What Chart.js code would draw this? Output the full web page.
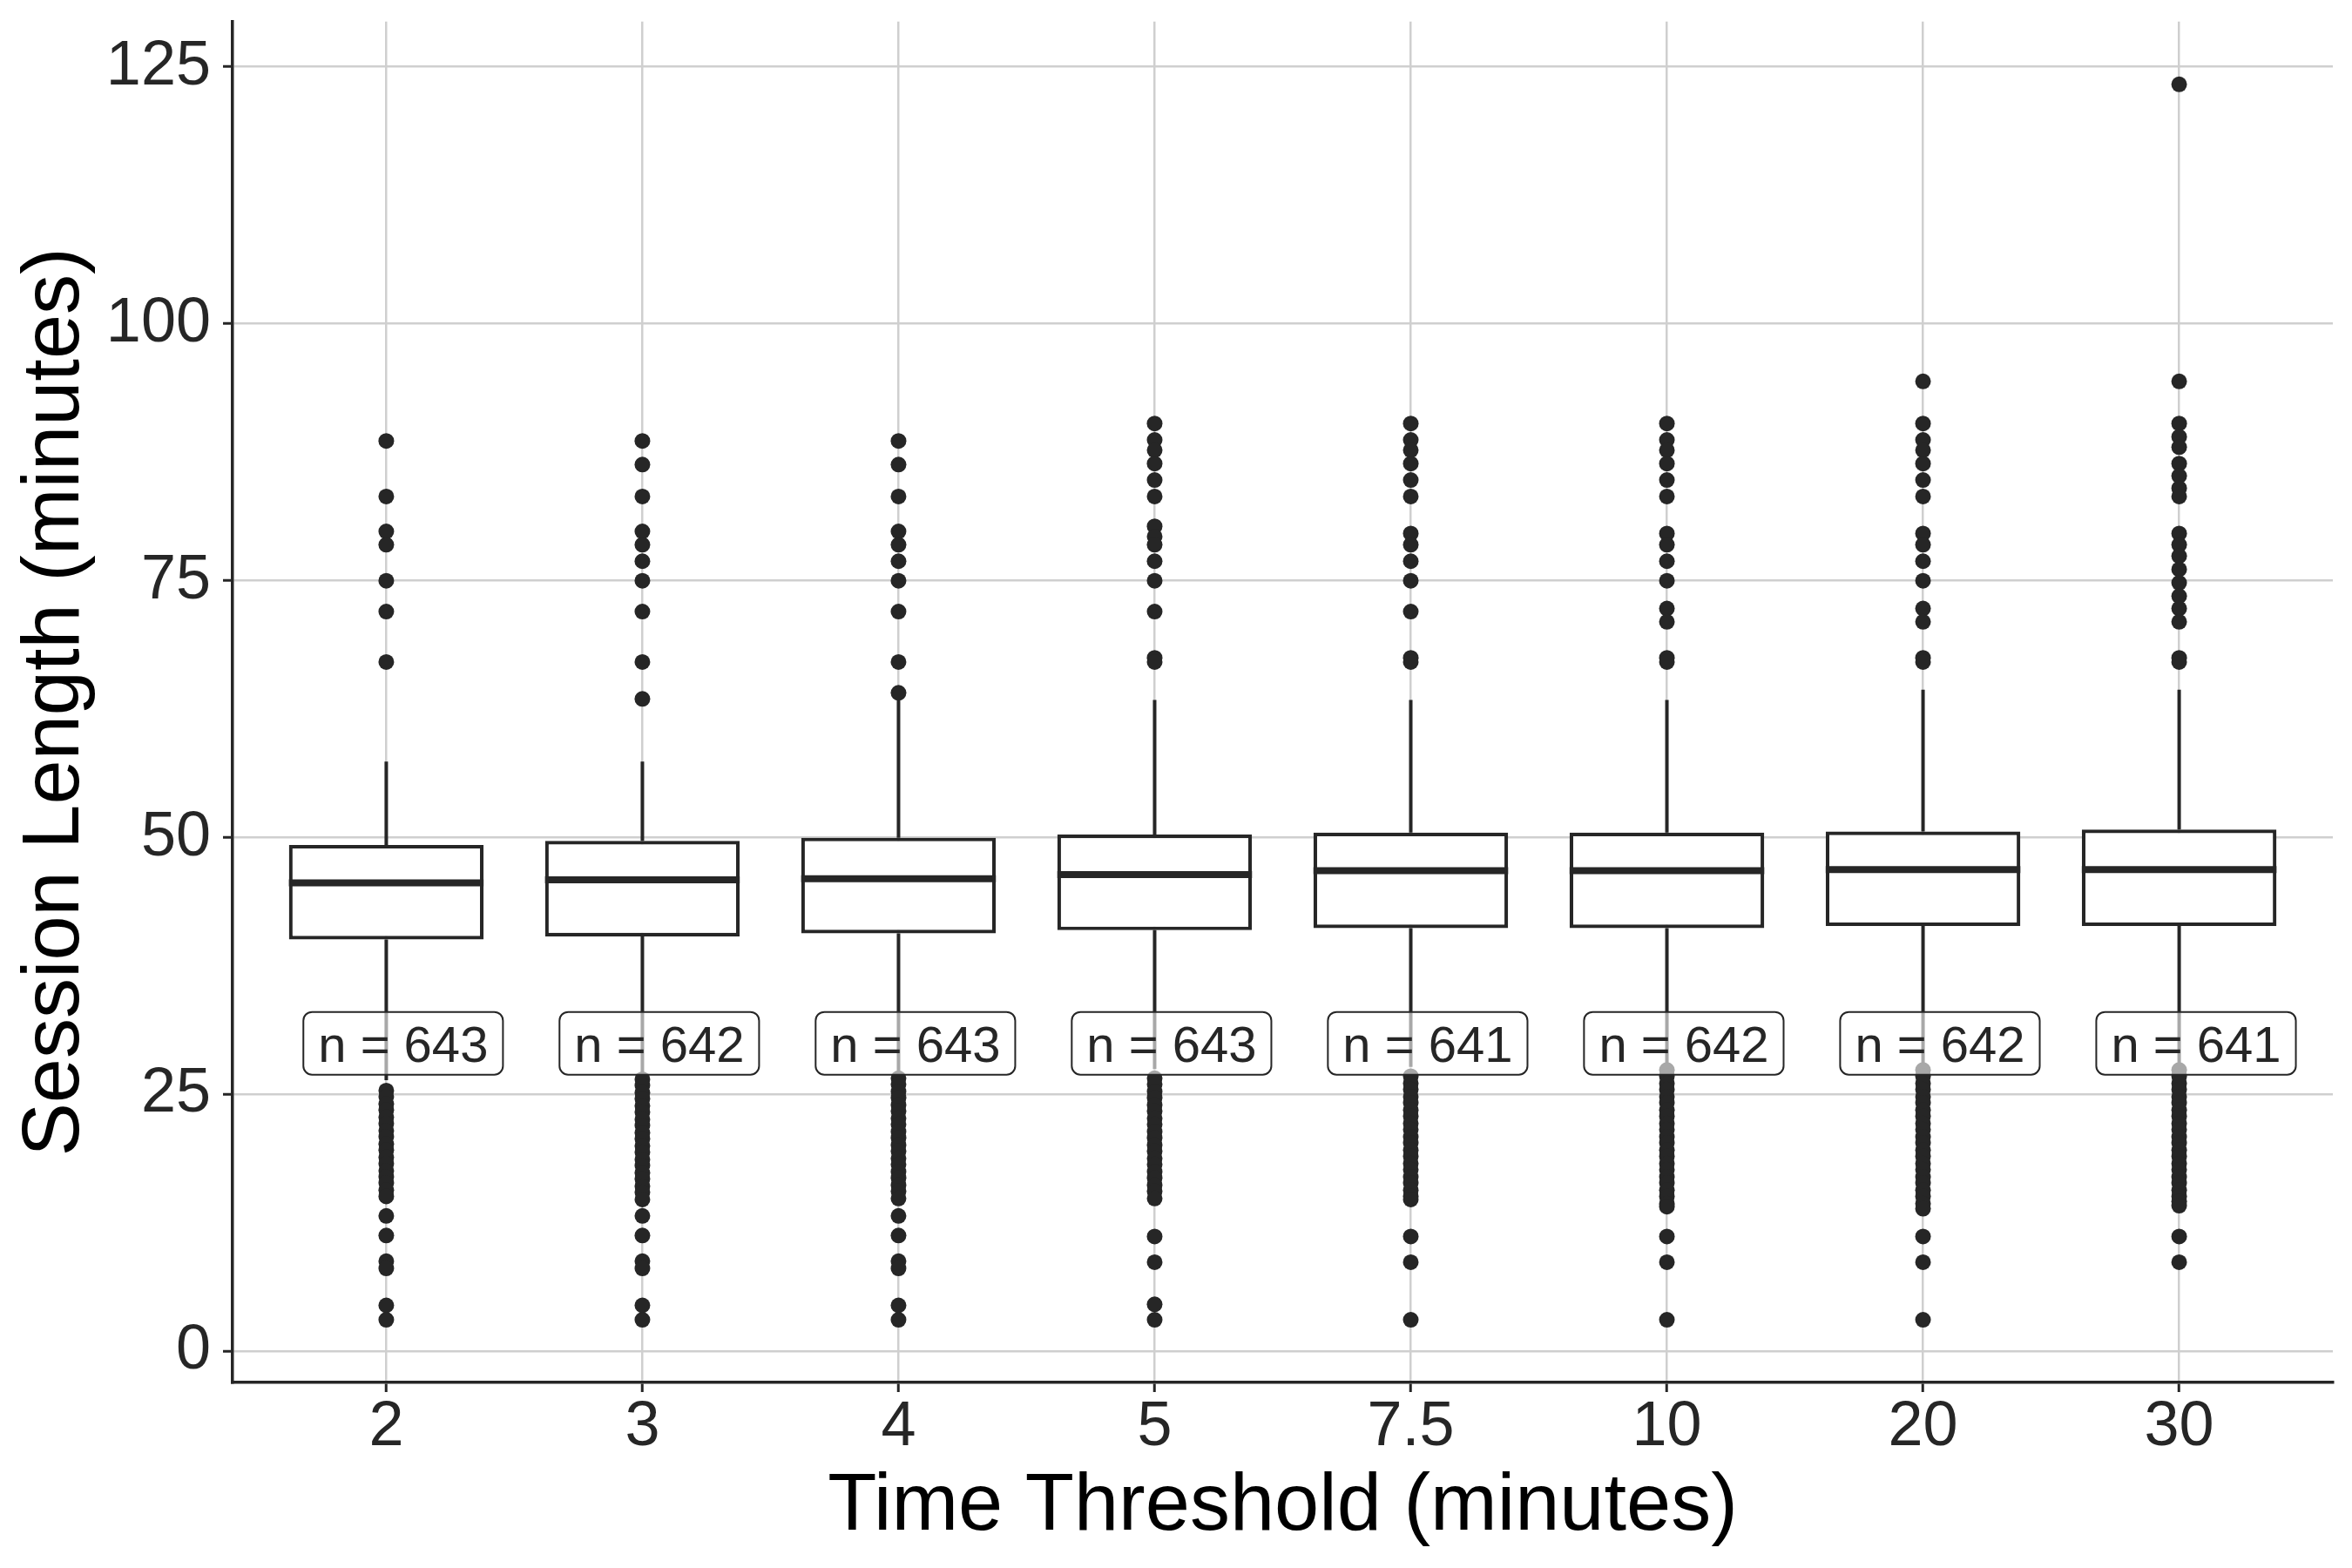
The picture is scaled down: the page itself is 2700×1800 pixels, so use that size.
<!DOCTYPE html>
<html>
<head>
<meta charset="utf-8">
<script src="https://cdn.jsdelivr.net/npm/chart.js@4.4.1/dist/chart.umd.min.js"></script>
<style>
  html, body { margin: 0; padding: 0; background: #fff; }
  #wrap { width: 2700px; height: 1800px; position: relative; }
</style>
</head>
<body>
<div id="wrap"><canvas id="chart"></canvas></div>
<script>
const categories = ["2", "3", "4", "5", "7.5", "10", "20", "30"];
const yTicks = [0, 25, 50, 75, 100, 125];

const q1 = [40.1, 40.4, 40.7, 41.0, 41.2, 41.2, 41.4, 41.4];
const medians = [45.6, 45.9, 46.0, 46.4, 46.8, 46.8, 46.9, 46.9];
const q3 = [49.3, 49.7, 50.0, 50.3, 50.5, 50.5, 50.6, 50.8];
const whiskerLow = [26.4, 27.0, 27.3, 27.5, 27.7, 27.9, 27.9, 28.0];
const whiskerHigh = [57.4, 57.4, 63.4, 63.4, 63.4, 63.4, 64.4, 64.4];
const counts = [643, 642, 643, 643, 641, 642, 642, 641];

const outliersHigh = [
  [88.6, 83.2, 79.8, 78.5, 75.0, 72.0, 67.1],
  [88.6, 86.3, 83.2, 79.8, 78.5, 76.9, 75.0, 72.0, 67.1, 63.5],
  [88.6, 86.3, 83.2, 79.8, 78.5, 76.9, 75.0, 72.0, 67.1, 64.1],
  [90.3, 88.7, 87.7, 86.4, 84.8, 83.2, 80.3, 79.3, 78.5, 76.9, 75.0, 72.0, 67.5, 67.1],
  [90.3, 88.7, 87.7, 86.4, 84.8, 83.2, 79.6, 78.5, 76.9, 75.0, 72.0, 67.5, 67.1],
  [90.3, 88.7, 87.7, 86.4, 84.8, 83.2, 79.6, 78.5, 76.9, 75.0, 72.3, 71.0, 67.5, 67.1],
  [94.4, 90.3, 88.7, 87.7, 86.4, 84.8, 83.2, 79.6, 78.5, 76.9, 75.0, 72.3, 71.0, 67.5, 67.1],
  [123.3, 94.4, 90.3, 89.0, 88.0, 86.4, 85.2, 84.0, 83.2, 79.6, 78.5, 77.4, 76.1, 74.8, 73.5, 72.3, 71.0, 67.5, 67.1]
];

const outliersLow = [
  [25.4, 24.8, 24.1, 23.5, 22.8, 22.2, 21.5, 20.9, 20.2, 19.6, 18.9, 18.3, 17.6, 17.0, 16.4, 15.7, 15.1, 13.2, 11.3, 8.8, 8.1, 4.5, 3.1],
  [26.5, 25.9, 25.2, 24.6, 23.9, 23.3, 22.6, 22.0, 21.3, 20.7, 20.0, 19.4, 18.7, 18.1, 17.4, 16.8, 16.1, 15.5, 14.8, 13.2, 11.3, 8.8, 8.1, 4.5, 3.1],
  [26.6, 26.0, 25.3, 24.7, 24.0, 23.4, 22.7, 22.1, 21.4, 20.8, 20.1, 19.5, 18.8, 18.2, 17.5, 16.9, 16.2, 15.6, 14.9, 13.2, 11.3, 8.8, 8.1, 4.5, 3.1],
  [26.6, 26.0, 25.3, 24.7, 24.0, 23.4, 22.7, 22.1, 21.4, 20.8, 20.1, 19.5, 18.8, 18.2, 17.5, 16.9, 16.2, 15.6, 14.9, 11.2, 8.7, 4.6, 3.1],
  [26.8, 26.1, 25.5, 24.8, 24.2, 23.5, 22.9, 22.2, 21.6, 20.9, 20.3, 19.6, 19.0, 18.3, 17.7, 17.0, 16.4, 15.7, 15.1, 14.8, 11.2, 8.7, 3.1],
  [27.4, 26.8, 26.1, 25.5, 24.8, 24.2, 23.5, 22.9, 22.2, 21.6, 20.9, 20.3, 19.6, 19.0, 18.3, 17.7, 17.0, 16.4, 15.7, 15.1, 14.4, 14.1, 11.2, 8.7, 3.1],
  [27.4, 26.8, 26.1, 25.5, 24.8, 24.2, 23.5, 22.9, 22.2, 21.6, 20.9, 20.3, 19.6, 19.0, 18.3, 17.7, 17.0, 16.4, 15.7, 15.1, 14.4, 13.9, 11.2, 8.7, 3.1],
  [27.4, 26.8, 26.1, 25.5, 24.8, 24.2, 23.5, 22.9, 22.2, 21.6, 20.9, 20.3, 19.6, 19.0, 18.3, 17.7, 17.0, 16.4, 15.7, 15.1, 14.6, 14.2, 11.2, 8.7]
];

// where the "n = ..." labels sit
const labelY = 30;
const labelNudge = 0.066;

const INK = "#262626";
const FONT = "'Liberation Sans', Arial, Helvetica, sans-serif";

// OUTLIER POINTS
const outlierPoints = [];
categories.forEach((c, i) => {
  outliersHigh[i].concat(outliersLow[i]).forEach(v => outlierPoints.push({ x: i, y: v }));
});

// whiskers under the boxes, medians + n labels on top
const boxExtras = {
  id: "boxExtras",
  beforeDatasetsDraw(chart) {
    const { ctx, scales: { x, y } } = chart;
    ctx.save();
    ctx.strokeStyle = INK;
    ctx.lineWidth = 4;
    categories.forEach((c, i) => {
      const px = x.getPixelForValue(i);
      ctx.beginPath();
      ctx.moveTo(px, y.getPixelForValue(whiskerHigh[i]));
      ctx.lineTo(px, y.getPixelForValue(q3[i]));
      ctx.moveTo(px, y.getPixelForValue(q1[i]));
      ctx.lineTo(px, y.getPixelForValue(whiskerLow[i]));
      ctx.stroke();
    });
    ctx.restore();
  },
  afterDatasetsDraw(chart) {
    const { ctx, scales: { x, y } } = chart;
    const bars = chart.getDatasetMeta(0).data;
    ctx.save();

    ctx.strokeStyle = INK;
    ctx.lineWidth = 8;
    bars.forEach((bar, i) => {
      const py = y.getPixelForValue(medians[i]);
      ctx.beginPath();
      ctx.moveTo(bar.x - bar.width / 2, py);
      ctx.lineTo(bar.x + bar.width / 2, py);
      ctx.stroke();
    });

    ctx.font = "58px " + FONT;
    ctx.textAlign = "center";
    ctx.textBaseline = "alphabetic";
    counts.forEach((n, i) => {
      const text = "n = " + n;
      const cx = x.getPixelForValue(i + labelNudge);
      const cy = y.getPixelForValue(labelY);
      const w = ctx.measureText(text).width + 34;
      const h = 72;
      ctx.beginPath();
      ctx.roundRect(cx - w / 2, cy - h / 2, w, h, 10);
      ctx.fillStyle = "rgba(255,255,255,0.6)";
      ctx.fill();
      ctx.lineWidth = 2;
      ctx.strokeStyle = INK;
      ctx.stroke();
      ctx.fillStyle = INK;
      ctx.fillText(text, cx, cy + 21);
    });
    ctx.restore();
  }
};

const ctx = document.getElementById("chart");

new Chart(ctx, {
  type: "bar",
  data: {
    datasets: [
      {
        type: "bar",
        data: categories.map((c, i) => ({ x: i, y: [q1[i], q3[i]] })),
        backgroundColor: "#ffffff",
        borderColor: INK,
        borderWidth: 4.2,
        borderSkipped: false,
        barPercentage: 0.76,
        categoryPercentage: 1,
        order: 2
      },
      {
        type: "scatter",
        data: outlierPoints,
        pointRadius: 9,
        pointBackgroundColor: INK,
        pointBorderWidth: 0,
        showLine: false,
        order: 1
      }
    ]
  },
  options: {
    responsive: true,
    maintainAspectRatio: false,
    animation: false,
    layout: { padding: { top: 15, right: 22, left: 0, bottom: 0 } },
    plugins: {
      legend: { display: false },
      tooltip: { enabled: false }
    },
    scales: {
      x: {
        type: "linear",
        min: -0.6,
        max: 7.6,
        offset: false,
        afterBuildTicks: s => { s.ticks = categories.map((c, i) => ({ value: i })); },
        afterFit: s => { s.height = 213; },
        ticks: {
          callback: v => categories[v],
          autoSkip: false,
          maxRotation: 0,
          padding: -2,
          color: INK,
          font: { size: 72, family: FONT }
        },
        grid: {
          offset: false,
          color: "#cfcfcf",
          lineWidth: 2.5,
          tickColor: INK,
          tickWidth: 3,
          tickLength: 11
        },
        border: { display: true, color: INK, width: 3.5 },
        title: {
          display: true,
          text: "Time Threshold (minutes)",
          color: "#000",
          font: { size: 92, family: FONT },
          padding: { top: 0, bottom: 14 }
        }
      },
      y: {
        min: -3,
        max: 129.4,
        afterBuildTicks: s => { s.ticks = yTicks.map(v => ({ value: v })); },
        afterFit: s => { s.width = 267; },
        ticks: {
          padding: 14,
          color: INK,
          font: { size: 72, family: FONT, lineHeight: 0.3 }
        },
        grid: {
          color: "#cfcfcf",
          lineWidth: 2.5,
          tickColor: INK,
          tickWidth: 3,
          tickLength: 11
        },
        border: { display: true, color: INK, width: 3.5 },
        title: {
          display: true,
          text: "Session Length (minutes)",
          color: "#000",
          font: { size: 92, family: FONT },
          padding: { top: 9, bottom: 0 }
        }
      }
    }
  },
  plugins: [boxExtras]
});
</script>
</body>
</html>
